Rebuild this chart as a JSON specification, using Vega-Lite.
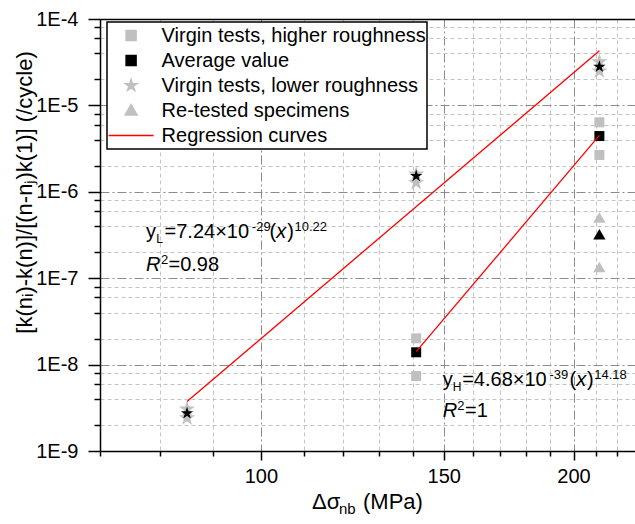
{
  "$schema": "https://vega.github.io/schema/vega-lite/v6.json",
  "width": 535,
  "height": 432,
  "autosize": "none",
  "padding": {"left": 100, "top": 19, "right": 0, "bottom": 73},
  "background": "white",
  "config": {"font": "Liberation Sans", "view": {"stroke": null}, "legend": {"strokeWidth": 1.5}},
  "datasets": {
    "pts": [
      {"x": 211.8, "y": 6.37e-6, "series": "Virgin tests, higher roughness"},
      {"x": 211.8, "y": 2.67e-6, "series": "Virgin tests, higher roughness"},
      {"x": 141.1, "y": 2.015e-8, "series": "Virgin tests, higher roughness"},
      {"x": 141.1, "y": 7.38e-9, "series": "Virgin tests, higher roughness"},
      {"x": 84.9, "y": 3.06e-9, "series": "Virgin tests, lower roughness"},
      {"x": 84.9, "y": 2.41e-9, "series": "Virgin tests, lower roughness"},
      {"x": 141.1, "y": 1.6e-6, "series": "Virgin tests, lower roughness"},
      {"x": 141.1, "y": 1.28e-6, "series": "Virgin tests, lower roughness"},
      {"x": 211.8, "y": 3.18e-5, "series": "Virgin tests, lower roughness"},
      {"x": 211.8, "y": 2.5e-5, "series": "Virgin tests, lower roughness"},
      {"x": 211.8, "y": 4.93e-7, "series": "Re-tested specimens"},
      {"x": 211.8, "y": 1.32e-7, "series": "Re-tested specimens"},
      {"x": 211.8, "y": 4.42e-6, "series": "Average value"},
      {"x": 141.1, "y": 1.388e-8, "series": "Average value"}
    ],
    "avgStar": [
      {"x": 84.9, "y": 2.73e-9},
      {"x": 141.1, "y": 1.52e-6},
      {"x": 211.8, "y": 2.8e-5}
    ],
    "avgTri": [
      {"x": 211.8, "y": 3.16e-7}
    ],
    "fit": [
      {"x": 84.9, "y": 3.74e-9, "curve": "L", "series": "Regression curves"},
      {"x": 211.8, "y": 4.28e-5, "curve": "L", "series": "Regression curves"},
      {"x": 141.1, "y": 1.413e-8, "curve": "H", "series": "Regression curves"},
      {"x": 211.8, "y": 4.49e-6, "curve": "H", "series": "Regression curves"}
    ],
    "ann": [
      {"x": 77.53, "y": 2.919e-7, "t": "y", "role": "base"},
      {"x": 79.29, "y": 2.919e-7, "t": "L", "role": "sub"},
      {"x": 80.77, "y": 2.919e-7, "t": "=7.24×10", "role": "base"},
      {"x": 98.02, "y": 2.919e-7, "t": "-29", "role": "sup"},
      {"x": 101.92, "y": 2.919e-7, "t": "(", "role": "base"},
      {"x": 103.45, "y": 2.919e-7, "t": "x", "role": "var"},
      {"x": 106.01, "y": 2.919e-7, "t": ")", "role": "base"},
      {"x": 107.73, "y": 2.919e-7, "t": "10.22", "role": "sup"},
      {"x": 77.53, "y": 1.212e-7, "t": "R", "role": "var"},
      {"x": 80.12, "y": 1.212e-7, "t": "2", "role": "sup"},
      {"x": 81.48, "y": 1.212e-7, "t": "=0.98", "role": "base"},
      {"x": 149.68, "y": 5.65e-9, "t": "y", "role": "base"},
      {"x": 153.04, "y": 5.65e-9, "t": "H", "role": "sub"},
      {"x": 156.25, "y": 5.65e-9, "t": "=4.68×10", "role": "base"},
      {"x": 189.6, "y": 5.65e-9, "t": "-39", "role": "sup"},
      {"x": 198.2, "y": 5.65e-9, "t": "(", "role": "base"},
      {"x": 201.2, "y": 5.65e-9, "t": "x", "role": "var"},
      {"x": 206.1, "y": 5.65e-9, "t": ")", "role": "base"},
      {"x": 209.4, "y": 5.65e-9, "t": "14.18", "role": "sup"},
      {"x": 149.68, "y": 2.507e-9, "t": "R", "role": "var"},
      {"x": 154.57, "y": 2.507e-9, "t": "2", "role": "sup"},
      {"x": 157.27, "y": 2.507e-9, "t": "=1", "role": "base"}
    ]
  },
  "resolve": {"axis": {"x": "independent", "y": "independent"}},
  "layer": [
    {
      "data": {"name": "pts"},
      "mark": {"type": "point", "filled": true, "opacity": 1, "strokeWidth": 0},
      "encoding": {
        "x": {
          "field": "x", "type": "quantitative",
          "scale": {"type": "log", "domain": [70, 229.2], "nice": false},
          "axis": {
            "orient": "bottom",
            "values": [70, 80, 90, 100, 110, 120, 130, 140, 150, 160, 170, 180, 190, 200, 210, 220],
            "labelExpr": "datum.value % 50 === 0 ? format(datum.value, 'd') : ''",
            "labelFontSize": 20, "labelColor": "black", "labelPadding": 6, "labelFlush": false, "labelOverlap": false,
            "tickSize": {"condition": {"test": "datum.value % 50 === 0", "value": 9}, "value": 5},
            "tickColor": "black", "tickWidth": 1.5,
            "domainColor": "black", "domainWidth": 1.5,
            "grid": true,
            "gridColor": {"condition": {"test": "datum.value % 50 === 0", "value": "#8c8c8c"}, "value": "#c4c4c4"},
            "gridDash": {"condition": {"test": "datum.value % 50 === 0", "value": [9, 3, 2, 3]}, "value": [4, 3]},
            "gridWidth": 1,
            "title": "Δσ", "titleFontSize": 22, "titleFontWeight": "normal", "titleColor": "black",
            "titleX": 211.5, "titleY": 57, "titleAlign": "left", "titleBaseline": "alphabetic"
          }
        },
        "y": {
          "field": "y", "type": "quantitative",
          "scale": {"type": "log", "domain": [1e-9, 1e-4], "nice": false},
          "axis": {
            "orient": "left",
            "values": [1e-9, 2e-9, 4e-9, 6e-9, 8e-9, 1e-8, 2e-8, 4e-8, 6e-8, 8e-8, 1e-7, 2e-7, 4e-7, 6e-7, 8e-7, 1e-6, 2e-6, 4e-6, 6e-6, 8e-6, 1e-5, 2e-5, 4e-5, 6e-5, 8e-5, 1e-4],
            "labelExpr": "abs(log(datum.value)/LN10 - round(log(datum.value)/LN10)) < 1e-6 ? '1E' + round(log(datum.value)/LN10) : ''",
            "labelFontSize": 20, "labelColor": "black", "labelPadding": 10, "labelFlush": false, "labelOverlap": false,
            "tickSize": {"condition": {"test": "abs(log(datum.value)/LN10 - round(log(datum.value)/LN10)) < 1e-6", "value": 12}, "value": 6},
            "tickColor": "black", "tickWidth": 1.5,
            "domainColor": "black", "domainWidth": 1.5,
            "grid": true,
            "gridColor": {"condition": {"test": "abs(log(datum.value)/LN10 - round(log(datum.value)/LN10)) < 1e-6", "value": "#8c8c8c"}, "value": "#c4c4c4"},
            "gridDash": {"condition": {"test": "abs(log(datum.value)/LN10 - round(log(datum.value)/LN10)) < 1e-6", "value": [9, 3, 2, 3]}, "value": [4, 3]},
            "gridWidth": 1,
            "title": "[k(nᵢ)-k(n)]/[(n-nⱼ)k(1)] (/cycle)",
            "titleFontSize": 22, "titleFontWeight": "normal", "titleColor": "black",
            "titleX": -76, "titleY": 173, "titleAlign": "center", "titleBaseline": "middle", "titleAngle": -90
          }
        },
        "color": {
          "field": "series", "type": "nominal",
          "scale": {
            "domain": ["Virgin tests, higher roughness", "Average value", "Virgin tests, lower roughness", "Re-tested specimens", "Regression curves"],
            "range": ["#c0c0c0", "#000000", "#c0c0c0", "#c0c0c0", "#ff0000"]
          },
          "legend": {
            "title": null, "orient": "none", "legendX": 7, "legendY": 3, "direction": "vertical",
            "padding": 1, "fillColor": "white", "strokeColor": "black",
            "clipHeight": 25, "rowPadding": 0, "symbolSize": 100, "symbolOffset": 13.1, "labelOffset": 20.5,
            "labelFontSize": 20, "labelFont": "Liberation Sans", "labelColor": "black", "labelLimit": 400, "labelBaseline": "middle"
          }
        },
        "shape": {
          "field": "series", "type": "nominal",
          "scale": {
            "domain": ["Virgin tests, higher roughness", "Average value", "Virgin tests, lower roughness", "Re-tested specimens", "Regression curves"],
            "range": ["square", "square",
              "M0,-1.2L0.2694,-0.3708L1.1412,-0.3708L0.4356,0.1416L0.7056,0.9708L0,0.4584L-0.7056,0.9708L-0.4356,0.1416L-1.1412,-0.3708L-0.2694,-0.3708Z",
              "M0,-1.2L1.2,0.88L-1.2,0.88Z",
              "M-4.5,0L4.5,0"]
          },
          "legend": {
            "title": null, "orient": "none", "legendX": 7, "legendY": 3, "direction": "vertical",
            "padding": 1, "fillColor": "white", "strokeColor": "black",
            "clipHeight": 25, "rowPadding": 0, "symbolSize": 100, "symbolOffset": 13.1, "labelOffset": 20.5,
            "labelFontSize": 20, "labelFont": "Liberation Sans", "labelColor": "black", "labelLimit": 400, "labelBaseline": "middle"
          }
        },
        "size": {
          "condition": [
            {"test": "datum.series === 'Virgin tests, lower roughness'", "value": 200},
            {"test": "datum.series === 'Re-tested specimens'", "value": 105}
          ],
          "value": 100
        }
      }
    },
    {
      "data": {"name": "avgStar"},
      "mark": {"type": "point", "filled": true, "opacity": 1, "strokeWidth": 0, "color": "black", "size": 170,
        "shape": "M0,-1L0.2245,-0.309L0.951,-0.309L0.363,0.118L0.588,0.809L0,0.382L-0.588,0.809L-0.363,0.118L-0.951,-0.309L-0.2245,-0.309Z"},
      "encoding": {
        "x": {"field": "x", "type": "quantitative", "scale": {"type": "log", "domain": [70, 229.2], "nice": false}, "axis": null},
        "y": {"field": "y", "type": "quantitative", "scale": {"type": "log", "domain": [1e-9, 1e-4], "nice": false}, "axis": null}
      }
    },
    {
      "data": {"name": "avgTri"},
      "mark": {"type": "point", "filled": true, "opacity": 1, "strokeWidth": 0, "color": "black", "size": 105, "shape": "M0,-1.2L1.2,0.88L-1.2,0.88Z"},
      "encoding": {
        "x": {"field": "x", "type": "quantitative", "scale": {"type": "log", "domain": [70, 229.2], "nice": false}, "axis": null},
        "y": {"field": "y", "type": "quantitative", "scale": {"type": "log", "domain": [1e-9, 1e-4], "nice": false}, "axis": null}
      }
    },
    {
      "data": {"name": "fit"},
      "mark": {"type": "line", "strokeWidth": 1.3},
      "encoding": {
        "x": {"field": "x", "type": "quantitative", "scale": {"type": "log", "domain": [70, 229.2], "nice": false}, "axis": null},
        "y": {"field": "y", "type": "quantitative", "scale": {"type": "log", "domain": [1e-9, 1e-4], "nice": false}, "axis": null},
        "color": {"field": "series", "type": "nominal"},
        "detail": {"field": "curve", "type": "nominal"}
      }
    },
    {
      "data": {"name": "ann"},
      "transform": [{"filter": "datum.role === 'base'"}],
      "mark": {"type": "text", "align": "left", "baseline": "alphabetic", "fontSize": 20, "color": "black", "font": "Liberation Sans"},
      "encoding": {
        "x": {"field": "x", "type": "quantitative", "scale": {"type": "log", "domain": [70, 229.2], "nice": false}, "axis": null},
        "y": {"field": "y", "type": "quantitative", "scale": {"type": "log", "domain": [1e-9, 1e-4], "nice": false}, "axis": null},
        "text": {"field": "t", "type": "nominal"}
      }
    },
    {
      "data": {"name": "ann"},
      "transform": [{"filter": "datum.role === 'var'"}],
      "mark": {"type": "text", "align": "left", "baseline": "alphabetic", "fontSize": 20, "fontStyle": "italic", "color": "black", "font": "Liberation Sans"},
      "encoding": {
        "x": {"field": "x", "type": "quantitative", "scale": {"type": "log", "domain": [70, 229.2], "nice": false},
          "axis": {"orient": "top", "domain": true, "domainColor": "black", "domainWidth": 1.5, "ticks": false, "labels": false, "grid": false, "title": null}},
        "y": {"field": "y", "type": "quantitative", "scale": {"type": "log", "domain": [1e-9, 1e-4], "nice": false}, "axis": null},
        "text": {"field": "t", "type": "nominal"}
      }
    },
    {
      "data": {"name": "ann"},
      "transform": [{"filter": "datum.role === 'sub'"}],
      "mark": {"type": "text", "align": "left", "baseline": "alphabetic", "fontSize": 12, "dy": 5, "color": "black", "font": "Liberation Sans"},
      "encoding": {
        "x": {"field": "x", "type": "quantitative", "scale": {"type": "log", "domain": [70, 229.2], "nice": false},
          "axis": {"orient": "bottom", "domain": false, "ticks": false, "labels": false, "grid": false,
            "title": "nb", "titleFontSize": 15, "titleFontWeight": "normal", "titleColor": "black",
            "titleX": 238.5, "titleY": 62, "titleAlign": "left", "titleBaseline": "alphabetic"}},
        "y": {"field": "y", "type": "quantitative", "scale": {"type": "log", "domain": [1e-9, 1e-4], "nice": false}, "axis": null},
        "text": {"field": "t", "type": "nominal"}
      }
    },
    {
      "data": {"name": "ann"},
      "transform": [{"filter": "datum.role === 'sup'"}],
      "mark": {"type": "text", "align": "left", "baseline": "alphabetic", "fontSize": 13, "dy": -7, "color": "black", "font": "Liberation Sans"},
      "encoding": {
        "x": {"field": "x", "type": "quantitative", "scale": {"type": "log", "domain": [70, 229.2], "nice": false},
          "axis": {"orient": "bottom", "domain": false, "ticks": false, "labels": false, "grid": false,
            "title": "(MPa)", "titleFontSize": 22, "titleFontWeight": "normal", "titleColor": "black",
            "titleX": 262.5, "titleY": 57, "titleAlign": "left", "titleBaseline": "alphabetic"}},
        "y": {"field": "y", "type": "quantitative", "scale": {"type": "log", "domain": [1e-9, 1e-4], "nice": false}, "axis": null},
        "text": {"field": "t", "type": "nominal"}
      }
    }
  ]
}
